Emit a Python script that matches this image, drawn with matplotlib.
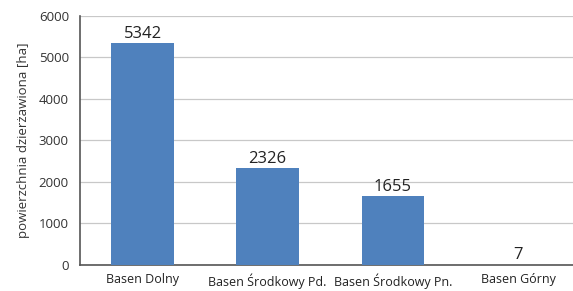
import matplotlib
matplotlib.use("Agg")
import matplotlib.pyplot as plt

categories = ["Basen Dolny", "Basen Środkowy Pd.", "Basen Środkowy Pn.", "Basen Górny"]
values = [5342, 2326, 1655, 7]
yticks = [0, 1000, 2000, 3000, 4000, 5000, 6000]

plt.rcParams['font.family'] = ['Open Sans', 'DejaVu Sans']

fig = plt.figure(figsize=(5.73, 2.91), dpi=100)
ax = fig.add_axes([0.1396, 0.0893, 0.8604, 0.856])

x = list(range(len(categories)))
bars = ax.bar(x, values, width=0.5, color="#4F81BD", zorder=3)
for xi, v in zip(x, values):
    ax.text(xi, v + 40, str(v), ha="center", va="bottom", fontsize=12, color="#222222")

ax.set_xlim(-0.5, 3.44)
ax.set_ylim(0, 6000)
ax.set_yticks(yticks)
ax.set_yticklabels([str(t) for t in yticks], fontsize=9.5, color="#333333")
ax.set_xticks(x)
ax.set_xticklabels(categories, fontsize=9, color="#222222")
ax.tick_params(axis="both", length=0)
ax.tick_params(axis="y", pad=8)
ax.tick_params(axis="x", pad=6)
ax.set_ylabel("powierzchnia dzierżawiona [ha]", fontsize=9.5, color="#333333", labelpad=6)

ax.grid(axis="y", color="#C8C8C8", linewidth=0.9, zorder=0)
for s in ["top", "right"]:
    ax.spines[s].set_visible(False)
ax.spines["left"].set_color("#555555")
ax.spines["bottom"].set_color("#555555")
ax.spines["left"].set_linewidth(1.2)
ax.spines["bottom"].set_linewidth(1.2)

fig.savefig("out.png", dpi=100)
